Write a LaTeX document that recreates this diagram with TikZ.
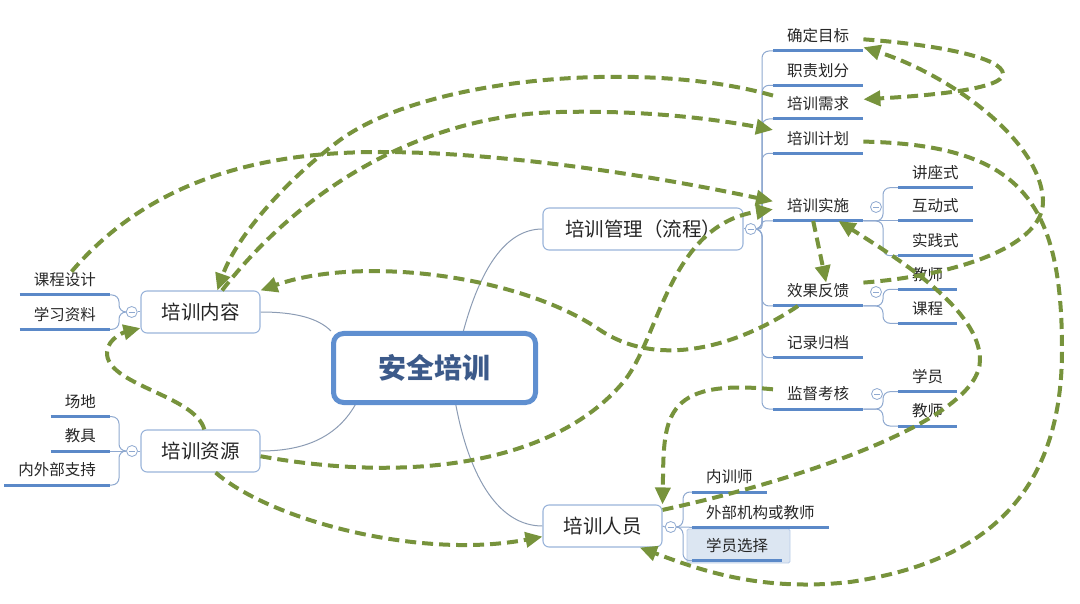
\documentclass[tikz,border=0pt]{standalone}
\usepackage{fontspec}
\setmainfont{Noto Sans CJK SC}
\usetikzlibrary{arrows.meta,calc}
\definecolor{grn}{HTML}{77933C}
\definecolor{ulc}{HTML}{5B89C8}
\definecolor{boxc}{HTML}{9AB4DA}
\definecolor{brc}{HTML}{8FA9D0}
\definecolor{rootc}{HTML}{5F8FD0}
\definecolor{rootl}{HTML}{8C9CB4}
\definecolor{roottx}{HTML}{3C5A8A}
\definecolor{txt}{HTML}{262626}
\definecolor{hlfill}{HTML}{DCE6F2}
\definecolor{hldraw}{HTML}{B8CCE8}
\pgfdeclarelayer{bg}
\pgfsetlayers{bg,main}
\begin{document}
\begin{tikzpicture}[x=1pt,y=-1pt,
  every node/.style={text=txt},
  rootbox/.style={draw=rootc, line width=5pt, rounded corners=10pt, fill=white, minimum width=202pt, minimum height=69pt, font=\fontsize{28}{32}\selectfont\bfseries, text=roottx},
  topic/.style={draw=boxc, line width=1.1pt, rounded corners=6pt, fill=white, minimum height=42pt, font=\fontsize{19.5}{22}\selectfont, inner sep=0pt},
  item/.style={inner xsep=14pt, inner ysep=0pt, text height=14pt, text depth=9pt, font=\fontsize{15.5}{18}\selectfont},
  uline/.style={draw=ulc, line width=3pt},
  branch/.style={draw=brc, line width=1pt, rounded corners=7pt},
  rootlink/.style={draw=rootl, line width=1pt},
  tog/.style={circle, draw=brc, fill=white, minimum size=11pt, inner sep=0pt, line width=0.8pt, path picture={\draw[brc, line width=0.8pt] ([xshift=-3pt]path picture bounding box.center) -- ([xshift=3pt]path picture bounding box.center);}},
  rel/.style={draw=grn, line width=4pt, dash pattern=on 11pt off 6pt, -{Triangle[length=17pt,width=15pt]}},
]
\useasboundingbox (0,0) rectangle (1080,604);
% main topics
\node[rootbox] (root) at (434.5,368) {安全培训};
\node[topic, minimum width=200pt] (mgmt) at (643,229) {培训管理（流程）};
\node[topic, minimum width=119pt] (cont) at (200.5,312) {培训内容};
\node[topic, minimum width=119pt] (res) at (200.5,451) {培训资源};
\node[topic, minimum width=119pt] (ppl) at (602.5,526) {培训人员};
% toggles
\node[tog] (mgmtc) at (750.7,229) {};
\node[tog] (contc) at (131.7,312) {};
\node[tog] (resc) at (132,451) {};
\node[tog] (pplc) at (670.7,527) {};
\node[tog] (pxssc) at (876,207) {};
\node[tog] (xgfkc) at (876,292) {};
\node[tog] (jdkhc) at (877,394) {};
% right items
\node[item, anchor=south west] (qdmb) at (773,51) {确定目标};
\node[item, anchor=south west] (zzhf) at (773,85.3) {职责划分};
\node[item, anchor=south west] (pxxq) at (773,119) {培训需求};
\node[item, anchor=south west] (pxjh) at (773,153.3) {培训计划};
\node[item, anchor=south west] (pxss) at (773,221) {培训实施};
\node[item, anchor=south west] (xgfk) at (773,306) {效果反馈};
\node[item, anchor=south west] (jlgd) at (773,357.7) {记录归档};
\node[item, anchor=south west] (jdkh) at (773,409) {监督考核};
% sub items
\node[item, anchor=south west] (jzs) at (898,187.7) {讲座式};
\node[item, anchor=south west] (hds) at (898,221) {互动式};
\node[item, anchor=south west] (sjs) at (898,255.7) {实践式};
\node[item, anchor=south west] (fkjs) at (898,289.3) {教师};
\node[item, anchor=south west] (fkkc) at (898,323.3) {课程};
\node[item, anchor=south west] (khxy) at (898,391.7) {学员};
\node[item, anchor=south west] (khjs) at (898,426) {教师};
% left items
\node[item, anchor=south east] (kcsj) at (110,295) {课程设计};
\node[item, anchor=south east] (xxzl) at (110,329.3) {学习资料};
\node[item, anchor=south east] (cd) at (110,416.7) {场地};
\node[item, anchor=south east] (jj) at (110,451) {教具};
\node[item, anchor=south east] (nwbzc) at (110,485) {内外部支持};
% people items
\node[item, anchor=south west] (nxs) at (692,492) {内训师};
\node[item, anchor=south west] (wbjg) at (692,527.3) {外部机构或教师};
\node[item, anchor=south west] (xyxz) at (692,560.7) {学员选择};

\begin{pgfonlayer}{bg}
\filldraw[fill=hlfill, draw=hldraw, line width=0.8pt, rounded corners=1.5pt] (687,529) rectangle (790,563);
\draw[rootlink] (root.52) .. controls (480,270) and (505,229) .. (mgmt.west);
\draw[rootlink] (root.north west) .. controls (318,318) and (295,312) .. (cont.east);
\draw[rootlink] (root.-155) .. controls (335,440) and (300,451) .. (res.east);
\draw[rootlink] (root.-60) .. controls (470,480) and (500,526) .. (ppl.west);
% left branches
\draw[branch] (cont.west) -- (contc.east);
\draw[branch] (contc.west) -| ([xshift=9pt]kcsj.south east) -- (kcsj.south east);
\draw[branch] (contc.west) -| ([xshift=9pt]xxzl.south east) -- (xxzl.south east);
\draw[branch] (res.west) -- (resc.east);
\draw[branch] (resc.west) -| ([xshift=9pt]cd.south east) -- (cd.south east);
\draw[branch] (resc.west) -- (jj.south east);
\draw[branch] (resc.west) -| ([xshift=9pt]nwbzc.south east) -- (nwbzc.south east);
% right trunk
\draw[branch] (mgmt.east) -- (mgmtc.west);
\foreach \n in {qdmb,zzhf,pxxq,pxjh,xgfk,jlgd,jdkh}
  \draw[branch] (mgmtc.east) -| ([xshift=-11pt]\n.south west) -- (\n.south west);
\draw[branch, rounded corners=3pt] (mgmtc.east) -| ([xshift=-11pt]pxss.south west) -- (pxss.south west);
% people branches
\draw[branch] (ppl.east) -- (pplc.west);
\draw[branch] (pplc.east) -| ([xshift=-9pt]nxs.south west) -- (nxs.south west);
\draw[branch] (pplc.east) -- (wbjg.south west);
\draw[branch] (pplc.east) -| ([xshift=-9pt]xyxz.south west) -- (xyxz.south west);
% sub branches
\draw[branch] (pxss.south east) -- (hds.south west);
\draw[branch] (pxss.south east) -| ([xshift=-15pt]jzs.south west) -- (jzs.south west);
\draw[branch] (pxss.south east) -| ([xshift=-15pt]sjs.south west) -- (sjs.south west);
\draw[branch] (xgfk.south east) -| ([xshift=-15pt]fkjs.south west) -- (fkjs.south west);
\draw[branch] (xgfk.south east) -| ([xshift=-15pt]fkkc.south west) -- (fkkc.south west);
\draw[branch] (jdkh.south east) -| ([xshift=-15pt]khxy.south west) -- (khxy.south west);
\draw[branch] (jdkh.south east) -| ([xshift=-15pt]khjs.south west) -- (khjs.south west);
\end{pgfonlayer}

% underlines
\foreach \n in {qdmb,zzhf,pxxq,pxjh,pxss,xgfk,jlgd,jdkh,jzs,hds,sjs,fkjs,fkkc,khxy,khjs,kcsj,xxzl,cd,jj,nwbzc,nxs,wbjg,xyxz}
  \draw[uline] (\n.south west) -- (\n.south east);

% relationships
\draw[rel] (qdmb.east) .. controls (940,45) and (1003,58) .. (1003,74) .. controls (1003,88) and (940,95) .. (pxxq.10);
\draw[rel] (xgfk.north east) .. controls (960,275) and (1045,245) .. (1043,200) .. controls (1040,140) and (950,75) .. (qdmb.-10);
\draw[rel] (pxjh.east) .. controls (1020,145) and (1062,200) .. (1062,350) .. controls (1062,480) and (1000,560) .. (850,582) .. controls (760,592) and (700,570) .. (ppl.-30);
\draw[rel] (ppl.15) .. controls (800,480) and (980,420) .. (980,360) .. controls (980,310) and (900,260) .. (pxss.-30);
\draw[rel] (jdkh.170) .. controls (660,378) and (664,420) .. (ppl.north east);
\draw[rel] ([xshift=-5pt]pxss.south) -- ([xshift=8pt]xgfk.north);
\draw[rel] (xgfk.-150) .. controls (740,345) and (660,370) .. (600,330) .. controls (520,275) and (360,255) .. (cont.north east);
\draw[rel] (res.80) .. controls (195,395) and (105,385) .. (107,352) .. controls (108,338) and (125,332) .. (cont.-165);
\draw[rel] (res.-5) .. controls (420,485) and (560,460) .. (625,380) .. controls (660,335) and (670,225) .. (pxss.west);
\draw[rel] (res.-55) .. controls (270,520) and (420,560) .. (ppl.-170);
\draw[rel] (kcsj.60) .. controls (150,180) and (260,152) .. (380,152) .. controls (500,152) and (650,175) .. (pxss.170);
\draw[rel] (pxxq.north west) .. controls (650,60) and (430,75) .. (340,140) .. controls (280,185) and (235,240) .. (cont.52);
\draw[rel] (cont.45) .. controls (300,190) and (420,115) .. (560,112) .. controls (650,110) and (720,120) .. (pxjh.north west);
\end{tikzpicture}
\end{document}
